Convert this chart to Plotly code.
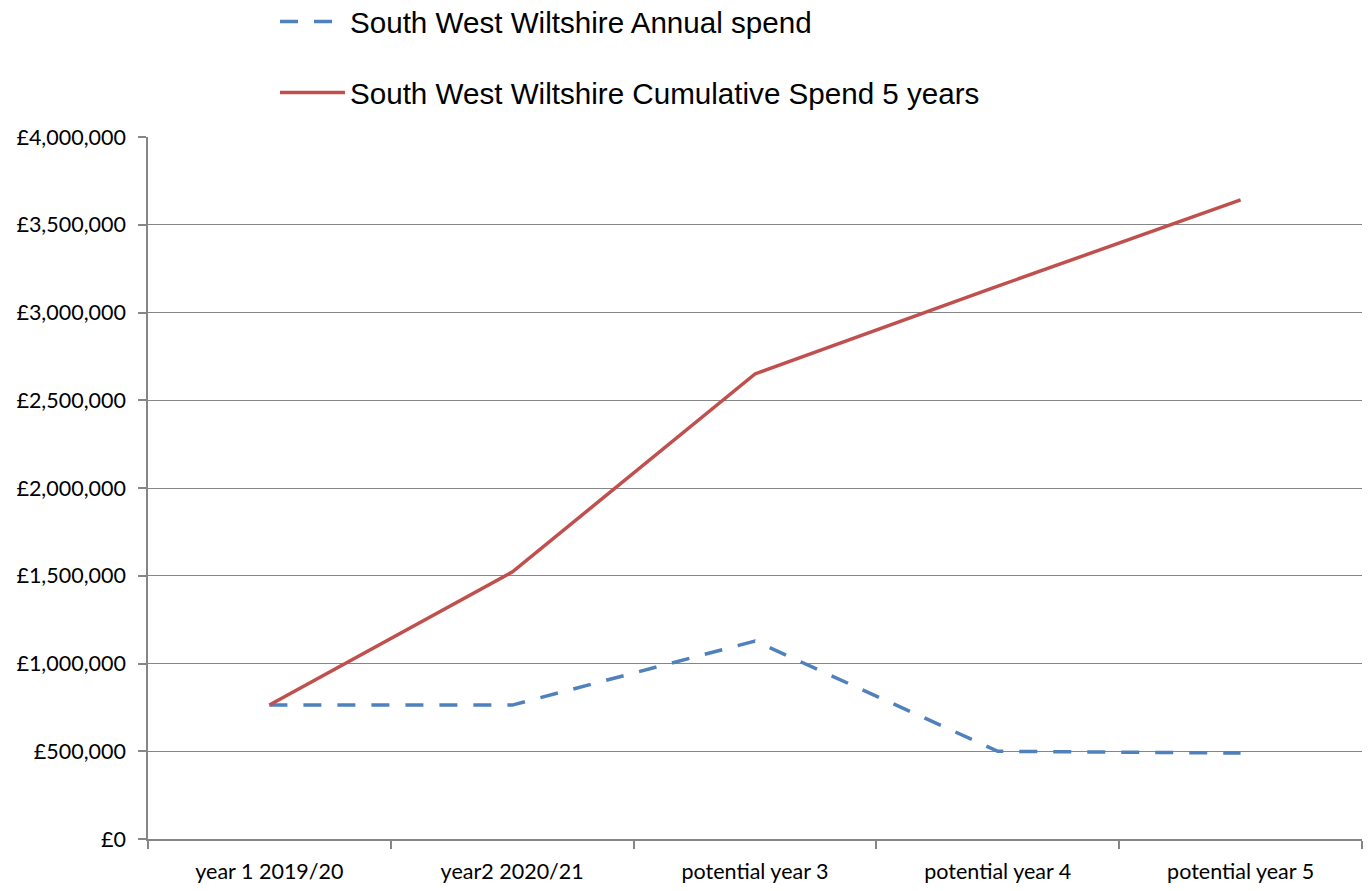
import plotly.graph_objects as go

categories = ["year 1 2019/20", "year2 2020/21", "potential year 3", "potential year 4", "potential year 5"]
annual_spend = [763000, 763000, 1128000, 500000, 490000]
cumulative_spend = [763000, 1521000, 2650000, 3150000, 3642000]
y_ticks = [0, 500000, 1000000, 1500000, 2000000, 2500000, 3000000, 3500000, 4000000]
y_tick_labels = ["£0", "£500,000", "£1,000,000", "£1,500,000", "£2,000,000",
                 "£2,500,000", "£3,000,000", "£3,500,000", "£4,000,000"]

fig = go.Figure()
fig.add_trace(go.Scatter(
    x=categories, y=annual_spend, mode="lines",
    name="South West Wiltshire Annual spend",
    line=dict(color="#4F81BD", width=3.5, dash="18px,16px"),
    legend="legend",
))
fig.add_trace(go.Scatter(
    x=categories, y=cumulative_spend, mode="lines",
    name="South West Wiltshire Cumulative Spend 5 years",
    line=dict(color="#C0504D", width=3.5),
    legend="legend2",
))

legend_font = dict(family="Liberation Sans, Arial, sans-serif", size=29.6, color="#000000")
tick_font = dict(family="Lato, Open Sans, sans-serif", size=21.5, color="#000000")
fig.update_layout(
    width=1370, height=891,
    margin=dict(l=148, r=8, t=137, b=52, autoexpand=False),
    paper_bgcolor="white", plot_bgcolor="white",
    font=tick_font,
    legend=dict(x=0.1046, y=1.164, xanchor="left", yanchor="middle", font=legend_font,
                bgcolor="rgba(0,0,0,0)", itemwidth=65),
    legend2=dict(x=0.1046, y=1.063, xanchor="left", yanchor="middle", font=legend_font,
                 bgcolor="rgba(0,0,0,0)", itemwidth=65),
    showlegend=True,
)
fig.update_xaxes(
    type="category", range=[-0.5, 4.5], automargin=False,
    showgrid=False, showline=True, linecolor="#868686", linewidth=1.5,
    ticks="outside", tickson="boundaries", ticklen=8, tickcolor="#868686", tickwidth=1.5,
    tickfont=tick_font, ticklabelstandoff=12,
)
fig.update_yaxes(
    range=[0, 4000000], tickvals=y_ticks, ticktext=y_tick_labels, automargin=False,
    showgrid=True, gridcolor="#868686", gridwidth=1,
    showline=True, linecolor="#868686", linewidth=1.5,
    ticks="outside", ticklen=8, tickcolor="#868686", tickwidth=1.5,
    tickfont=tick_font, ticklabelstandoff=8,
    zeroline=False,
)

fig.write_html("out.html", config={"displayModeBar": False},
               post_script="document.body.style.margin='0';")
